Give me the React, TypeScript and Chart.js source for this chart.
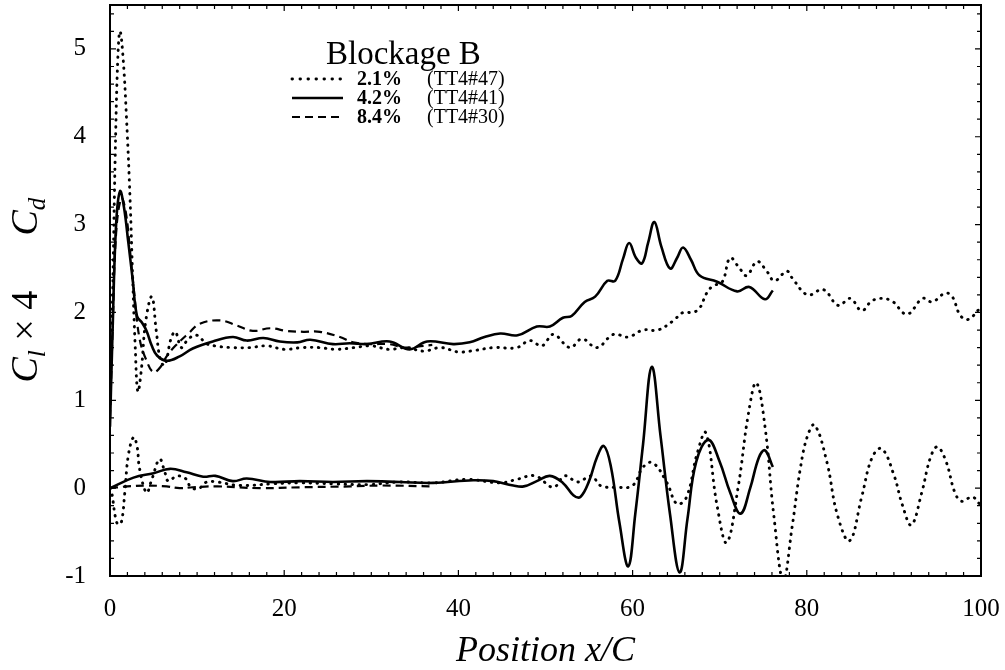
import { useEffect, useRef } from 'react';
import { Chart, registerables } from 'chart.js';

Chart.register(...registerables);

// ---- Data ----
const xTickValues = [0, 20, 40, 60, 80, 100];
const yTickValues = [-1, 0, 1, 2, 3, 4, 5];

const legendTitle = 'Blockage B';
const seriesLabels = ['2.1%', '4.2%', '8.4%'];
const runLabels = ['(TT4#47)', '(TT4#41)', '(TT4#30)'];

// Cd, blockage 2.1% (dotted)
const cd21X = [0, 0.3, 0.6, 0.9, 1.15, 1.5, 1.9, 2.3, 2.6, 2.9, 3.2, 3.6, 4.1, 4.8, 5.3, 5.8, 6.3, 7.0, 7.5, 8.2, 9.0, 10.0, 11.0, 12.0, 14, 16, 18, 20, 22, 24, 26, 28, 30, 32, 34, 36, 38, 40, 42, 44, 46.7, 48.2, 49.6, 50.9, 52.8, 54.2, 55.9, 57.8, 59.5, 61.2, 62.9, 64.6, 65.8, 66.9, 67.7, 68.5, 69.2, 70.3, 71.2, 72.3, 73.1, 74.3, 75.4, 76.3, 77.7, 78.4, 80.1, 81.9, 83.6, 85.0, 86.3, 87.6, 89.6, 91.5, 93.3, 94.4, 95.9, 96.7, 97.6, 98.5, 100];
const cd21Y = [1.0, 2.2, 3.8, 4.9, 5.2, 4.9, 4.2, 3.3, 2.4, 1.6, 1.1, 1.35, 1.9, 2.18, 1.8, 1.45, 1.4, 1.7, 1.78, 1.6, 1.7, 1.74, 1.65, 1.62, 1.6, 1.6, 1.62, 1.58, 1.6, 1.6, 1.58, 1.6, 1.62, 1.58, 1.6, 1.56, 1.6, 1.55, 1.57, 1.6, 1.6, 1.68, 1.62, 1.75, 1.6, 1.7, 1.6, 1.75, 1.72, 1.8, 1.8, 1.9, 2.0, 2.0, 2.05, 2.22, 2.3, 2.35, 2.62, 2.5, 2.42, 2.58, 2.47, 2.36, 2.47, 2.38, 2.2, 2.26, 2.08, 2.16, 2.02, 2.14, 2.14, 1.98, 2.16, 2.12, 2.22, 2.18, 1.97, 1.92, 2.06];

// Cd, blockage 4.2% (solid)
const cd42X = [0, 0.3, 0.7, 1.15, 1.6, 2.1, 2.6, 3.1, 3.7, 4.2, 4.8, 5.4, 6.5, 8.0, 9.5, 11.8, 14.1, 15.7, 17.6, 19.5, 21.5, 23.0, 25.6, 27.5, 29.5, 32.1, 34.4, 36.4, 39.4, 41.3, 43.0, 44.8, 46.8, 49.0, 50.5, 52.0, 53.0, 54.5, 55.7, 57.1, 58.0, 58.9, 59.6, 60.4, 61.1, 61.8, 62.5, 63.3, 64.3, 65.1, 65.8, 66.7, 67.7, 69.7, 72.0, 73.4, 75.2, 76.1];
const cd42Y = [0.7, 1.8, 3.0, 3.38, 3.2, 2.8, 2.38, 1.96, 1.88, 1.79, 1.62, 1.51, 1.45, 1.5, 1.59, 1.67, 1.72, 1.68, 1.71, 1.67, 1.66, 1.69, 1.64, 1.65, 1.64, 1.67, 1.58, 1.67, 1.64, 1.66, 1.72, 1.76, 1.74, 1.84, 1.84, 1.94, 1.96, 2.12, 2.18, 2.36, 2.36, 2.61, 2.79, 2.62, 2.56, 2.8, 3.03, 2.75, 2.5, 2.62, 2.74, 2.6, 2.42, 2.35, 2.24, 2.29, 2.15, 2.25];

// Cd, blockage 8.4% (dashed)
const cd84X = [0, 0.3, 0.7, 1.3, 1.8, 2.3, 2.8, 3.4, 4.2, 5.0, 5.8, 6.5, 7.5, 9.0, 10.3, 12.6, 14.6, 16.4, 18.4, 20.3, 22.2, 24.1, 26.4, 27.9, 30, 32, 34, 36, 37];
const cd84Y = [0.8, 1.8, 2.9, 3.3, 3.15, 2.7, 2.2, 1.7, 1.45, 1.32, 1.38, 1.5, 1.62, 1.76, 1.87, 1.91, 1.85, 1.79, 1.82, 1.79, 1.78, 1.78, 1.72, 1.66, 1.64, 1.64, 1.6, 1.62, 1.63];

// Cl x 4, blockage 2.1% (dotted)
const cl21X = [0, 0.2, 0.6, 0.9, 1.3, 1.7, 2.1, 2.7, 3.1, 3.4, 4.2, 4.8, 5.7, 6.3, 6.7, 7.7, 8.8, 9.2, 10.1, 11.1, 12.3, 14.9, 18.7, 21.8, 25.6, 29.5, 33.3, 37.1, 41.0, 44.8, 46.7, 48.8, 50.9, 52.2, 53.7, 55.3, 56.3, 58.2, 60.0, 61.2, 62.3, 63.9, 65.1, 66.2, 67.4, 68.4, 69.7, 70.8, 72.1, 73.3, 74.2, 75.2, 76.2, 77.3, 78.3, 79.3, 80.1, 80.9, 82.3, 83.5, 84.9, 86.3, 87.5, 88.6, 90.0, 91.0, 92.0, 93.2, 94.2, 95.0, 96.0, 97.0, 97.8, 99.0, 100];
const cl21Y = [0, -0.05, -0.32, -0.41, -0.39, -0.05, 0.37, 0.58, 0.48, 0.22, -0.05, 0.10, 0.33, 0.18, 0.08, 0.14, 0.10, 0.02, -0.01, 0.07, 0.07, 0.03, 0.05, 0.06, 0.05, 0.04, 0.07, 0.06, 0.10, 0.06, 0.10, 0.14, 0.01, 0.14, 0.07, 0.14, 0.03, 0.01, 0.03, 0.24, 0.29, 0.07, -0.18, -0.10, 0.39, 0.63, -0.20, -0.62, 0.0, 0.85, 1.2, 0.7, -0.3, -1.05, -0.45, 0.25, 0.6, 0.72, 0.3, -0.3, -0.6, -0.1, 0.35, 0.45, 0.15, -0.2, -0.42, -0.05, 0.35, 0.47, 0.3, -0.05, -0.15, -0.1, -0.2];

// Cl x 4, blockage 4.2% (solid)
const cl42X = [0, 2.7, 5.0, 6.9, 8.8, 10.7, 12.1, 14.1, 15.7, 18.4, 21.8, 25.6, 29.5, 33.3, 37.1, 41.7, 44.0, 46.3, 47.5, 49.0, 50.5, 52.0, 53.2, 54.0, 55.0, 55.9, 56.7, 57.5, 58.5, 59.5, 60.3, 61.2, 62.2, 63.2, 64.3, 65.4, 66.3, 67.3, 68.7, 70.0, 71.2, 72.4, 73.5, 74.5, 75.2, 76.1];
const cl42Y = [0, 0.12, 0.17, 0.22, 0.18, 0.13, 0.14, 0.08, 0.11, 0.07, 0.08, 0.07, 0.08, 0.07, 0.06, 0.09, 0.08, 0.03, 0.02, 0.08, 0.14, 0.06, -0.08, -0.10, 0.08, 0.35, 0.48, 0.25, -0.4, -0.89, -0.3, 0.5, 1.38, 0.6, -0.3, -0.96, -0.35, 0.3, 0.55, 0.3, -0.05, -0.29, 0.0, 0.35, 0.43, 0.24];

// Cl x 4, blockage 8.4% (dashed)
const cl84X = [0, 2.0, 4.2, 6.5, 8.0, 9.5, 12.3, 17.2, 21.8, 27.6, 31.3, 37.1];
const cl84Y = [0, 0.02, 0.03, 0.02, 0.0, 0.01, 0.02, 0.0, 0.01, 0.02, 0.03, 0.02];

const SERIF = "'Liberation Serif', 'DejaVu Serif', serif";

const toPoints = (xs: number[], ys: number[]) => xs.map((x, i) => ({ x, y: ys[i] }));

const styleDotted = { borderDash: [0.5, 6.5], borderWidth: 2.9, borderCapStyle: 'round' as const };
const styleSolid = { borderDash: [] as number[], borderWidth: 2.6, borderCapStyle: 'butt' as const };
const styleDashed = { borderDash: [8, 5], borderWidth: 2.2, borderCapStyle: 'butt' as const };
const styles = [styleDotted, styleSolid, styleDashed];

const framePlugin = {
  id: 'frameAndText',
  afterDraw(chart: any) {
    const { ctx, chartArea: a, scales } = chart;
    const xs = scales.x;
    const ys = scales.y;
    ctx.save();
    // frame
    ctx.strokeStyle = '#000';
    ctx.lineWidth = 2;
    ctx.setLineDash([]);
    ctx.strokeRect(a.left, a.top, a.right - a.left, a.bottom - a.top);
    // ticks (inward, all sides)
    ctx.lineWidth = 1.2;
    ctx.beginPath();
    for (let v = 0; v <= 100.001; v += 2) {
      const px = xs.getPixelForValue(v);
      const len = v % 20 === 0 ? 6 : 4;
      ctx.moveTo(px, a.bottom); ctx.lineTo(px, a.bottom - len);
      ctx.moveTo(px, a.top); ctx.lineTo(px, a.top + len);
    }
    for (let i = -5; i <= 27; i++) {
      const v = i * 0.2;
      const py = ys.getPixelForValue(v);
      if (py < a.top - 0.5 || py > a.bottom + 0.5) continue;
      const len = i % 5 === 0 ? 6 : 4;
      ctx.moveTo(a.left, py); ctx.lineTo(a.left + len, py);
      ctx.moveTo(a.right, py); ctx.lineTo(a.right - len, py);
    }
    ctx.stroke();

    // legend
    ctx.fillStyle = '#000';
    ctx.textBaseline = 'alphabetic';
    ctx.textAlign = 'left';
    ctx.font = `33px ${SERIF}`;
    ctx.fillText(legendTitle, 326, 64);
    const rows = [85, 104, 123];
    seriesLabels.forEach((lab, i) => {
      const y = rows[i];
      const st = styles[i];
      ctx.beginPath();
      ctx.setLineDash(i === 0 ? [0.5, 7.5] : st.borderDash);
      ctx.lineCap = st.borderCapStyle;
      ctx.lineWidth = st.borderWidth;
      ctx.moveTo(292, y - 6);
      ctx.lineTo(343, y - 6);
      ctx.stroke();
      ctx.setLineDash([]);
      ctx.lineCap = 'butt';
      ctx.font = `bold 20px ${SERIF}`;
      ctx.fillText(lab, 357, y);
      ctx.font = `20px ${SERIF}`;
      ctx.fillText(runLabels[i], 427, y);
    });

    // x-axis title
    ctx.font = `italic 36px ${SERIF}`;
    ctx.textAlign = 'center';
    ctx.fillText('Position x/C', (a.left + a.right) / 2, 661);

    // y-axis title (rotated): C_l × 4    C_d
    const cy = (a.top + a.bottom) / 2;
    ctx.translate(37, cy);
    ctx.rotate(-Math.PI / 2);
    ctx.textAlign = 'left';
    const big = 38;
    const small = 25;
    let s = -92;
    const put = (txt: string, font: string, dy: number) => {
      ctx.font = font;
      ctx.fillText(txt, s, dy);
      s += ctx.measureText(txt).width;
    };
    put('C', `italic ${big}px ${SERIF}`, 0);
    put('l', `italic ${small}px ${SERIF}`, 8);
    put(' \u00d7 4', `${big}px ${SERIF}`, 0);
    s = 55;
    put('C', `italic ${big}px ${SERIF}`, 0);
    put('d', `italic ${small}px ${SERIF}`, 8);
    ctx.restore();
  },
};

export default function App() {
  const ref = useRef<HTMLCanvasElement | null>(null);
  useEffect(() => {
    if (!ref.current) return;
    const mk = (label: string, xs: number[], ys: number[], idx: number) => ({
      label,
      data: toPoints(xs, ys),
      borderColor: '#000',
      backgroundColor: '#000',
      pointRadius: 0,
      fill: false,
      tension: 0.4,
      ...styles[idx],
    });
    const chart = new Chart(ref.current, {
      type: 'line',
      data: {
        datasets: [
          mk('Cd 2.1%', cd21X, cd21Y, 0),
          mk('Cd 4.2%', cd42X, cd42Y, 1),
          mk('Cd 8.4%', cd84X, cd84Y, 2),
          mk('Cl 2.1%', cl21X, cl21Y, 0),
          mk('Cl 4.2%', cl42X, cl42Y, 1),
          mk('Cl 8.4%', cl84X, cl84Y, 2),
        ],
      },
      options: {
        animation: false,
        responsive: false,
        layout: { padding: { top: 5, right: 24, left: 0, bottom: 0 } },
        plugins: { legend: { display: false }, tooltip: { enabled: false } },
        scales: {
          x: {
            type: 'linear',
            min: 0,
            max: 100,
            grid: { display: false, drawTicks: false },
            border: { display: false },
            afterBuildTicks: (sc: any) => { sc.ticks = xTickValues.map((v) => ({ value: v })); },
            afterFit: (sc: any) => {
              sc.height = 94;
              sc.paddingLeft = 0; sc.paddingRight = 0; sc.paddingTop = 0; sc.paddingBottom = 0;
            },
            ticks: { color: '#000', padding: 18, maxRotation: 0, font: { family: SERIF, size: 25 } },
          },
          y: {
            type: 'linear',
            min: -1,
            max: 5.5,
            grid: { display: false, drawTicks: false },
            border: { display: false },
            afterBuildTicks: (sc: any) => { sc.ticks = yTickValues.map((v) => ({ value: v })); },
            afterFit: (sc: any) => {
              sc.width = 110;
              sc.paddingLeft = 0; sc.paddingRight = 0; sc.paddingTop = 0; sc.paddingBottom = 0;
            },
            ticks: { color: '#000', padding: 24, font: { family: SERIF, size: 25 } },
          },
        },
      },
      plugins: [framePlugin],
    });
    return () => chart.destroy();
  }, []);
  return (
    <div style={{ position: 'fixed', left: 0, top: 0, width: 1005, height: 670, background: '#fff' }}>
      <canvas ref={ref} width={1005} height={670} />
    </div>
  );
}
